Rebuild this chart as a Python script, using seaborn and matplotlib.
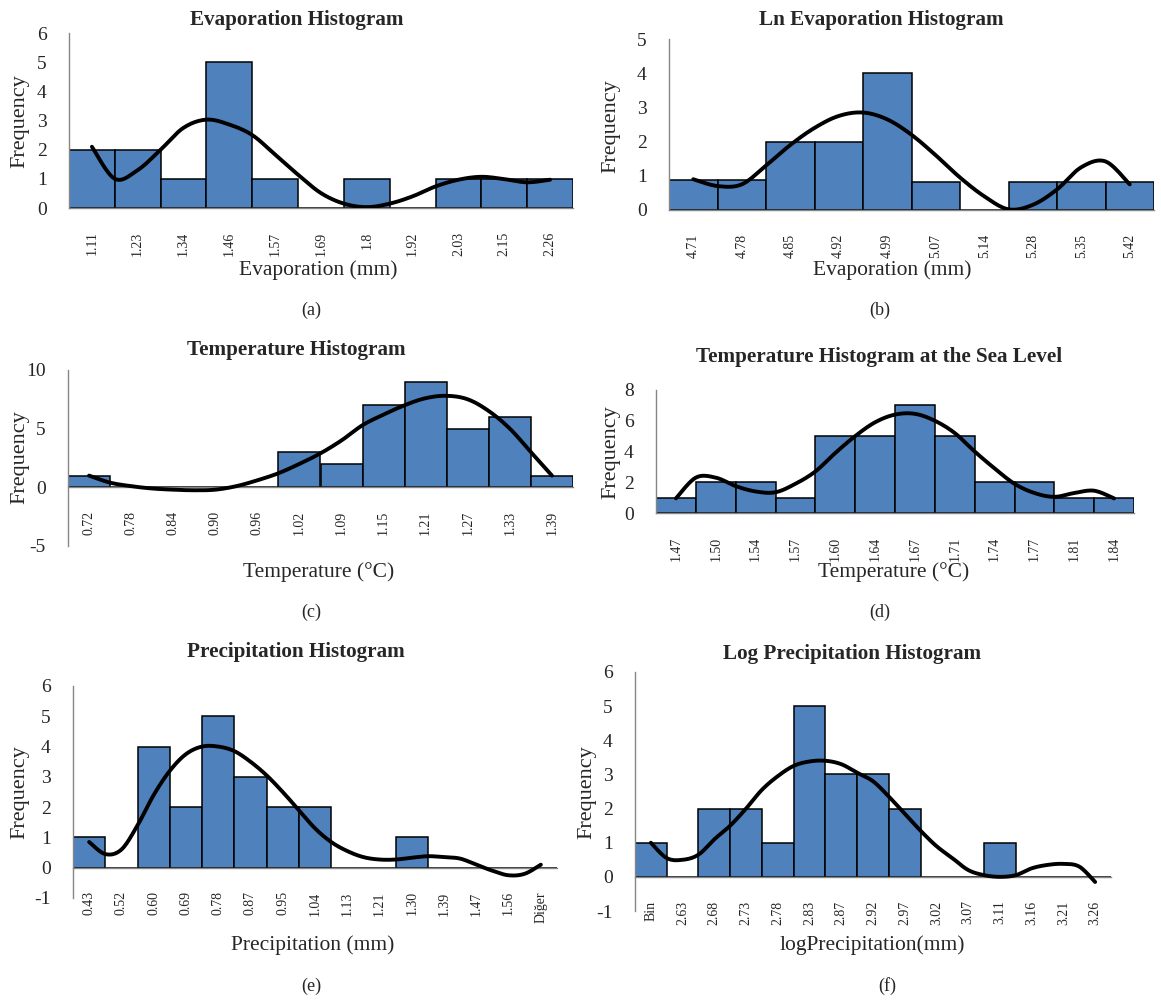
import numpy as np
import pandas as pd
import seaborn as sns
import matplotlib.pyplot as plt

W, H = 1161, 1001

# (a) Evaporation
evap_bins = ['1.11', '1.23', '1.34', '1.46', '1.57', '1.69', '1.8', '1.92', '2.03', '2.15', '2.26']
evap_freq = [2, 2, 1, 5, 1, 0, 1, 0, 1, 1, 1]
evap_curve = [2.1, 1.0, 1.3, 2.0, 2.75, 3.03, 2.86, 2.5, 1.83, 1.14, 0.51, 0.15, 0.03,
              0.15, 0.4, 0.74, 0.97, 1.07, 0.99, 0.88, 0.97]

# (b) Ln evaporation
lnevap_bins = ['4.71', '4.78', '4.85', '4.92', '4.99', '5.07', '5.14', '5.28', '5.35', '5.42']
lnevap_freq = [0.88, 0.88, 2, 2, 4, 0.81, 0, 0.81, 0.81, 0.81]
lnevap_curve = [0.9, 0.7, 0.75, 1.3, 1.9, 2.4, 2.75, 2.85, 2.65, 2.2, 1.6, 0.95, 0.4,
                0.02, 0.15, 0.6, 1.25, 1.42, 0.75]

# (c) Temperature
temp_bins = ['0.72', '0.78', '0.84', '0.90', '0.96', '1.02', '1.09', '1.15', '1.21', '1.27', '1.33', '1.39']
temp_freq = [1, 0, 0, 0, 0, 3, 2, 7, 9, 5, 6, 1]
temp_curve = [1.0, 0.4, 0.1, -0.1, -0.2, -0.25, -0.2, 0.1, 0.6, 1.2, 2.0, 2.9, 4.0, 5.3,
              6.2, 7.0, 7.6, 7.8, 7.5, 6.5, 5.0, 3.0, 1.0]

# (d) Temperature at sea level
sea_bins = ['1.47', '1.50', '1.54', '1.57', '1.60', '1.64', '1.67', '1.71', '1.74', '1.77', '1.81', '1.84']
sea_freq = [1, 2, 2, 1, 5, 5, 7, 5, 2, 2, 1, 1]
sea_curve = [0.95, 2.3, 2.3, 1.75, 1.4, 1.35, 1.9, 2.7, 3.9, 5.0, 5.9, 6.4, 6.45, 6.0,
             5.2, 4.0, 2.9, 1.9, 1.3, 1.05, 1.3, 1.45, 0.95]

# (e) Precipitation
prec_bins = ['0.43', '0.52', '0.60', '0.69', '0.78', '0.87', '0.95', '1.04', '1.13', '1.21',
             '1.30', '1.39', '1.47', '1.56', 'Diğer']
prec_freq = [1, 0, 4, 2, 5, 3, 2, 2, 0, 0, 1, 0, 0, 0, 0]
prec_curve = [0.85, 0.45, 0.6, 1.4, 2.4, 3.2, 3.75, 4.0, 4.0, 3.85, 3.5, 3.05, 2.5, 1.9,
              1.3, 0.85, 0.55, 0.35, 0.27, 0.27, 0.33, 0.38, 0.35, 0.3, 0.1, -0.1, -0.25,
              -0.2, 0.1]

# (f) Log precipitation
logp_bins = ['Bin', '2.63', '2.68', '2.73', '2.78', '2.83', '2.87', '2.92', '2.97', '3.02',
             '3.07', '3.11', '3.16', '3.21', '3.26']
logp_freq = [1, 0, 2, 2, 1, 5, 3, 3, 2, 0, 0, 1, 0, 0, 0]
logp_curve = [1.0, 0.55, 0.5, 0.65, 1.1, 1.5, 2.0, 2.55, 2.95, 3.25, 3.38, 3.4, 3.3, 3.05,
              2.8, 2.35, 1.85, 1.35, 0.9, 0.55, 0.2, 0.05, 0.0, 0.05, 0.25, 0.35, 0.38,
              0.3, -0.15]

sns.set_style('white')
plt.rcParams['font.family'] = ['Liberation Serif', 'DejaVu Serif']
plt.rcParams['axes.unicode_minus'] = False

BAR = '#4F81BD'
GREY = '#868686'


def smooth(ys, step=0.5, k=12):
    # Excel-like smoothed line (Catmull-Rom through the read points)
    ys = np.asarray(ys, float)
    xs = np.arange(len(ys)) * step
    px = np.concatenate([[xs[0]], xs, [xs[-1]]])
    py = np.concatenate([[ys[0]], ys, [ys[-1]]])
    out_x, out_y = [], []
    t = np.linspace(0, 1, k, endpoint=False)
    for i in range(1, len(px) - 2):
        for p, o in ((px, out_x), (py, out_y)):
            p0, p1, p2, p3 = p[i - 1], p[i], p[i + 1], p[i + 2]
            o.extend(0.5 * (2 * p1 + (-p0 + p2) * t + (2 * p0 - 5 * p1 + 4 * p2 - p3) * t ** 2
                            + (-p0 + 3 * p1 - 3 * p2 + p3) * t ** 3))
    out_x.append(xs[-1])
    out_y.append(ys[-1])
    return np.array(out_x), np.array(out_y)


def ftxt(x, y, s, **kw):
    fig.text(x / W, 1 - y / H, s, ha='center', va='center', **kw)


def panel(box, bins, freq, curve, ylim, ystep, title, title_xy, xlabel, xlabel_xy, tag, tag_xy, ylab_xy):
    l, t, r, b = box
    ax = fig.add_axes([l / W, 1 - b / H, (r - l) / W, (b - t) / H])
    df = pd.DataFrame({'bin': bins, 'freq': freq})
    sns.barplot(data=df, x='bin', y='freq', order=bins, color=BAR, saturation=1,
                edgecolor='black', linewidth=1.1, width=1.0, ax=ax)
    cx, cy = smooth(curve)
    sns.lineplot(x=cx, y=cy, ax=ax, color='black', linewidth=2.8, sort=False,
                 estimator=None, zorder=5)
    n = len(bins)
    ax.set_xlim(-0.5, n - 0.5)
    ax.set_ylim(*ylim)
    yt = np.arange(ylim[0], ylim[1] + 0.01, ystep)
    ax.set_yticks(yt)
    ax.set_yticklabels([str(int(v)) for v in yt], fontsize=14)
    ax.set_xticks(range(n))
    ax.set_xticklabels(bins, fontsize=11.5)
    ax.set_xticks(np.arange(n + 1) - 0.5, minor=True)
    ax.tick_params(axis='x', which='major', length=0, pad=17, labelrotation=90)
    ax.tick_params(axis='x', which='minor', length=5, width=1, color=GREY, direction='out')
    ax.tick_params(axis='y', length=5, width=1, color=GREY, direction='out', pad=11)
    for lab in ax.get_xticklabels():
        lab.set_rotation(90)
        lab.set_va('top')
        lab.set_ha('center')
    ax.set_xlabel('')
    ax.set_ylabel('')
    for s in ('top', 'right'):
        ax.spines[s].set_visible(False)
    for s in ('left', 'bottom'):
        ax.spines[s].set_color(GREY)
        ax.spines[s].set_linewidth(1)
    ax.spines['bottom'].set_position(('data', 0))
    ftxt(*title_xy, title, fontsize=15.2, fontweight='bold')
    ftxt(*xlabel_xy, xlabel, fontsize=15.5)
    ftxt(*tag_xy, tag, fontsize=13)
    ftxt(*ylab_xy, 'Frequency', fontsize=16, rotation=90)


fig = plt.figure(figsize=(W / 100, H / 100), dpi=100)

panel((69, 33, 573, 208), evap_bins, evap_freq, evap_curve, (0, 6), 1,
      'Evaporation Histogram', (297, 20), 'Evaporation (mm)', (318, 270), '(a)', (311, 310), (20, 121))
panel((669, 39, 1154, 210), lnevap_bins, lnevap_freq, lnevap_curve, (0, 5), 1,
      'Ln Evaporation Histogram', (881, 20), 'Evaporation (mm)', (892, 270), '(b)', (880, 310), (611, 126))
panel((68, 370, 573, 546), temp_bins, temp_freq, temp_curve, (-5, 10), 5,
      'Temperature Histogram', (296, 350), 'Temperature (°C)', (319, 572), '(c)', (311, 612), (20, 457))
panel((656, 390, 1134, 513), sea_bins, sea_freq, sea_curve, (0, 8), 2,
      'Temperature Histogram at the Sea Level', (879, 357), 'Temperature (°C)', (894, 572), '(d)', (880, 612), (611, 452))
panel((73, 686, 557, 898), prec_bins, prec_freq, prec_curve, (-1, 6), 1,
      'Precipitation Histogram', (296, 652), 'Precipitation (mm)', (313, 945), '(e)', (311, 986), (20, 792))
panel((635, 672, 1111, 911), logp_bins, logp_freq, logp_curve, (-1, 6), 1,
      'Log Precipitation Histogram', (852, 654), 'logPrecipitation(mm)', (872, 945), '(f)', (887, 986), (587, 792))

fig.savefig('out.png', dpi=100)
